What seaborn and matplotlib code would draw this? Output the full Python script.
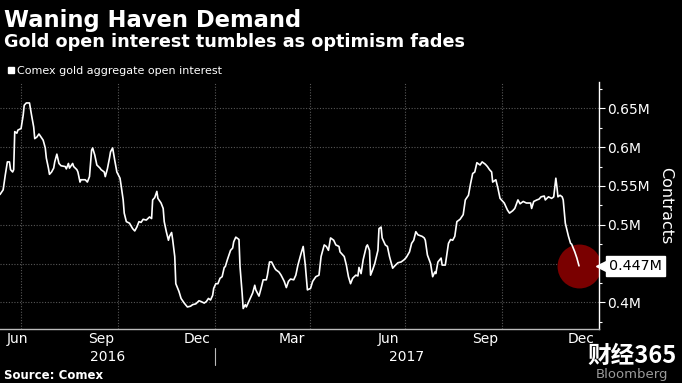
import matplotlib
matplotlib.use("Agg")
import matplotlib.pyplot as plt
import matplotlib.transforms as mtransforms
from matplotlib.lines import Line2D
from matplotlib.ticker import FixedLocator, FuncFormatter, MultipleLocator
import matplotlib.dates as mdates
import pandas as pd
import seaborn as sns

# Comex gold aggregate open interest, millions of contracts
dates_2016 = [
    "06-11", "06-14", "06-16", "06-18", "06-20", "06-21", "06-23", "06-24", "06-25", "06-27",
    "06-28", "07-01", "07-03", "07-04", "07-06", "07-09", "07-11", "07-13", "07-14", "07-16",
    "07-18", "07-21", "07-22", "07-24", "07-25", "07-27", "07-28", "07-30", "08-01", "08-02",
    "08-04", "08-06", "08-08", "08-12", "08-13", "08-15", "08-16", "08-18", "08-19", "08-20",
    "08-23", "08-24", "08-26", "08-27", "08-31", "09-02", "09-04", "09-06", "09-07", "09-09",
    "09-11", "09-14", "09-15", "09-18", "09-19", "09-21", "09-23", "09-24", "09-26", "09-28",
    "09-30", "10-03", "10-04", "10-06", "10-07", "10-09", "10-12", "10-15", "10-17", "10-19",
    "10-21", "10-23", "10-25", "10-28", "10-31", "11-02", "11-03", "11-05", "11-07", "11-08",
    "11-11", "11-13", "11-14", "11-16", "11-18", "11-19", "11-21", "11-22", "11-24", "11-25",
    "11-28", "11-30", "12-03", "12-06", "12-09", "12-11", "12-14", "12-17", "12-19", "12-22",
    "12-24", "12-26", "12-28", "12-30", "12-31",
]
oi_2016 = [
    0.539, 0.545, 0.564, 0.581, 0.581, 0.571, 0.568, 0.571, 0.620, 0.618,
    0.622, 0.624, 0.641, 0.654, 0.657, 0.657, 0.641, 0.626, 0.611, 0.613,
    0.617, 0.611, 0.609, 0.599, 0.586, 0.573, 0.565, 0.568, 0.573, 0.581,
    0.591, 0.579, 0.576, 0.575, 0.572, 0.579, 0.573, 0.577, 0.579, 0.575,
    0.571, 0.568, 0.555, 0.558, 0.558, 0.555, 0.562, 0.596, 0.599, 0.590,
    0.577, 0.573, 0.571, 0.568, 0.562, 0.572, 0.586, 0.594, 0.599, 0.583,
    0.568, 0.560, 0.551, 0.532, 0.515, 0.504, 0.502, 0.495, 0.492, 0.497,
    0.504, 0.503, 0.507, 0.506, 0.510, 0.508, 0.532, 0.535, 0.543, 0.534,
    0.528, 0.521, 0.504, 0.491, 0.480, 0.485, 0.490, 0.481, 0.459, 0.424,
    0.414, 0.405, 0.399, 0.394, 0.395, 0.397, 0.398, 0.402, 0.401, 0.399,
    0.401, 0.405, 0.403, 0.409, 0.418,
]
dates_2017 = [
    "01-02", "01-04", "01-06", "01-08", "01-10", "01-11", "01-13", "01-16", "01-18", "01-19",
    "01-21", "01-24", "01-25", "01-27", "01-28", "01-30", "01-31", "02-03", "02-06", "02-08",
    "02-09", "02-12", "02-14", "02-16", "02-19", "02-20", "02-22", "02-24", "02-27", "02-28",
    "03-03", "03-05", "03-08", "03-10", "03-12", "03-14", "03-17", "03-19", "03-21", "03-24",
    "03-26", "03-28", "03-30", "04-02", "04-04", "04-07", "04-10", "04-12", "04-15", "04-17",
    "04-19", "04-21", "04-24", "04-26", "04-29", "04-30", "05-04", "05-06", "05-08", "05-10",
    "05-12", "05-15", "05-17", "05-18", "05-20", "05-22", "05-25", "05-26", "05-28", "05-29",
    "05-31", "06-02", "06-05", "06-06", "06-08", "06-09", "06-12", "06-14", "06-16", "06-19",
    "06-21", "06-24", "06-27", "06-30", "07-02", "07-05", "07-07", "07-09", "07-11", "07-13",
    "07-17", "07-19", "07-20", "07-22", "07-25", "07-27", "07-29", "07-30", "08-01", "08-04",
    "08-05", "08-08", "08-11", "08-13", "08-15", "08-17", "08-19", "08-22", "08-25", "08-27",
    "08-30", "09-01", "09-03", "09-05", "09-07", "09-10", "09-12", "09-15", "09-17", "09-19",
    "09-21", "09-22", "09-25", "09-27", "09-29", "10-03", "10-06", "10-08", "10-11", "10-13",
    "10-16", "10-18", "10-21", "10-24", "10-28", "10-29", "10-31", "11-03", "11-05", "11-07",
    "11-10", "11-11", "11-14", "11-17", "11-19", "11-21", "11-22", "11-23", "11-25", "11-27",
    "11-28", "11-30", "12-03", "12-05", "12-06", "12-09", "12-11", "12-13",
]
oi_2017 = [
    0.424, 0.424, 0.431, 0.433, 0.445, 0.446, 0.455, 0.467, 0.470, 0.478,
    0.484, 0.481, 0.446, 0.412, 0.392, 0.397, 0.394, 0.403, 0.412, 0.422,
    0.416, 0.408, 0.418, 0.429, 0.429, 0.435, 0.452, 0.452, 0.444, 0.442,
    0.439, 0.435, 0.427, 0.419, 0.427, 0.430, 0.429, 0.435, 0.448, 0.463,
    0.472, 0.448, 0.416, 0.418, 0.427, 0.433, 0.435, 0.459, 0.474, 0.472,
    0.467, 0.483, 0.480, 0.474, 0.472, 0.465, 0.459, 0.448, 0.433, 0.424,
    0.431, 0.435, 0.434, 0.445, 0.437, 0.455, 0.472, 0.474, 0.467, 0.435,
    0.442, 0.450, 0.467, 0.495, 0.497, 0.483, 0.474, 0.472, 0.459, 0.444,
    0.447, 0.451, 0.452, 0.455, 0.458, 0.465, 0.476, 0.480, 0.491, 0.487,
    0.485, 0.483, 0.480, 0.461, 0.450, 0.433, 0.439, 0.437, 0.452, 0.457,
    0.448, 0.448, 0.476, 0.481, 0.480, 0.485, 0.504, 0.507, 0.513, 0.532,
    0.538, 0.553, 0.566, 0.568, 0.580, 0.577, 0.581, 0.578, 0.575, 0.571,
    0.568, 0.555, 0.558, 0.547, 0.534, 0.528, 0.519, 0.515, 0.518, 0.521,
    0.532, 0.527, 0.530, 0.528, 0.528, 0.521, 0.530, 0.532, 0.533, 0.536,
    0.537, 0.532, 0.536, 0.534, 0.536, 0.560, 0.549, 0.536, 0.538, 0.536,
    0.532, 0.502, 0.485, 0.476, 0.475, 0.465, 0.457, 0.447,
]

y_ticks = [0.4, 0.45, 0.5, 0.55, 0.6, 0.65]
month_labels = ["Jun", "Sep", "Dec", "Mar", "Jun", "Sep", "Dec"]
month_label_dates = ["2016-06-15", "2016-09-15", "2016-12-15", "2017-03-15",
                     "2017-06-15", "2017-09-15", "2017-12-15"]
grid_dates = ["2016-07-01", "2016-10-01", "2017-01-01", "2017-04-01", "2017-07-01", "2017-10-01"]
year_labels = ["2016", "2017"]
x_start, year_break, x_end = "2016-06-11", "2017-01-01", "2018-01-01"

df = pd.DataFrame({
    "date": pd.to_datetime(["2016-" + d for d in dates_2016] + ["2017-" + d for d in dates_2017]),
    "oi": oi_2016 + oi_2017,
})
last = df.iloc[-1]

sns.set_style("dark")
plt.rcParams["font.family"] = ["DejaVu Sans"]

fig = plt.figure(figsize=(6.82, 3.83), dpi=100, facecolor="black")
ax = fig.add_axes([0, 1 - 329 / 383, 599 / 682, 247 / 383])
ax.set_facecolor("black")

gridcol = "#575757"
for g in pd.to_datetime(grid_dates):
    ax.axvline(g, color=gridcol, lw=0.8, ls=(0, (1, 1.5)), zorder=0)

ax.scatter([last["date"]], [last["oi"]], s=1000, color="#7a0000", lw=0, zorder=1)
sns.lineplot(data=df, x="date", y="oi", color="white", lw=1.2, ax=ax, zorder=3)

ax.set_xlim(pd.Timestamp(x_start), pd.Timestamp(x_end))
ax.set_ylim(0.3656, 0.684)
ax.set_xlabel("")

# y axis on the right
ax.yaxis.tick_right()
ax.yaxis.set_label_position("right")
ax.yaxis.set_major_locator(FixedLocator(y_ticks))
ax.yaxis.set_minor_locator(MultipleLocator(0.025))
ax.yaxis.set_major_formatter(FuncFormatter(
    lambda v, p: "" if abs(v - 0.45) < 1e-9 else f"{v:g}M"))
ax.tick_params(axis="y", which="major", colors="white", length=4, width=0.8,
               pad=1.5, labelsize=10, labelcolor="white")
ax.tick_params(axis="y", which="minor", colors="white", length=2.5, width=0.8)
ax.set_ylabel("Contracts", color="white", fontsize=11.5, rotation=270, labelpad=17)
ax.grid(axis="y", which="major", color=gridcol, lw=0.8, ls=(0, (1, 1.5)))
ax.grid(axis="x", visible=False)

# x axis: month ticks, labels in the middle of quarter months
ax.xaxis.set_major_locator(mdates.MonthLocator())
ax.tick_params(axis="x", which="major", colors="#bbbbbb", length=4, width=0.8,
               labelbottom=False)
for sp in ["left", "top"]:
    ax.spines[sp].set_visible(False)
ax.spines["bottom"].set_color("#bbbbbb")
ax.spines["right"].set_color("white")
ax.spines["bottom"].set_linewidth(1.0)
ax.spines["right"].set_linewidth(1.0)

bt = mtransforms.blended_transform_factory(ax.transData, ax.transAxes)
for i, (lab, d) in enumerate(zip(month_labels, pd.to_datetime(month_label_dates))):
    if i == 0:
        ax.text(d + pd.Timedelta(days=2), -0.04, lab, transform=bt, color="white",
                fontsize=10, ha="left", va="center", clip_on=False)
    else:
        ax.text(d, -0.04, lab, transform=bt, color="white", fontsize=10,
                ha="center", va="center", clip_on=False)

xs, yb, xe = pd.Timestamp(x_start), pd.Timestamp(year_break), pd.Timestamp(x_end)
ax.text(xs + (yb - xs) / 2, -0.113, year_labels[0], transform=bt, color="white",
        fontsize=10, ha="center", va="center", clip_on=False)
ax.text(yb + (xe - yb) / 2, -0.113, year_labels[1], transform=bt, color="white",
        fontsize=10, ha="center", va="center", clip_on=False)
ax.plot([yb, yb], [-0.077, -0.146], transform=bt, color="#bbbbbb", lw=0.8, clip_on=False)

# last value tag: small pointer plus white box
yt = mtransforms.blended_transform_factory(ax.transAxes, ax.transData)
ptr = mtransforms.offset_copy(yt, fig=fig, x=3.0, y=0, units="points")
ax.plot([1.0], [last["oi"]], transform=ptr, marker="<", markersize=10, color="white",
        mec="white", clip_on=False, zorder=5)
ax.annotate(f"{last['oi']:.3f}M", xy=(1.0, last["oi"]), xycoords=yt,
            xytext=(7, 0), textcoords="offset points", ha="left", va="center",
            color="black", fontsize=10.3, annotation_clip=False, zorder=6,
            bbox=dict(boxstyle="square,pad=0.22", fc="white", ec="white"))

# legend
handle = Line2D([], [], marker="s", color="white", ls="", markersize=4.5)
leg = ax.legend([handle], ["Comex gold aggregate open interest"], loc="center left",
                bbox_to_anchor=(8 / 682, 1 - 71 / 383), bbox_transform=fig.transFigure,
                frameon=False, handlelength=0.5, handletextpad=0.35, borderpad=0,
                borderaxespad=0, fontsize=8)
for t in leg.get_texts():
    t.set_color("white")

fig.text(0.006, 1 - 27 / 383, "Waning Haven Demand", color="white", fontsize=16.3,
         weight="bold", va="baseline")
fig.text(0.006, 1 - 47 / 383, "Gold open interest tumbles as optimism fades", color="white",
         fontsize=12.7, weight="bold", va="baseline")
fig.text(0.006, 1 - 379 / 383, "Source: Comex", color="white", fontsize=8.5,
         weight="bold", va="baseline")

# site watermark
fig.text(587 / 682, 1 - 363 / 383, "财经365", color="white", fontsize=17, weight="bold",
         va="baseline", family=["Noto Sans CJK SC", "DejaVu Sans"])
fig.text(596 / 682, 1 - 378 / 383, "Bloomberg", color="#9a9a9a", fontsize=9.5,
         va="baseline")

fig.savefig("out.png", dpi=100, facecolor="black")
